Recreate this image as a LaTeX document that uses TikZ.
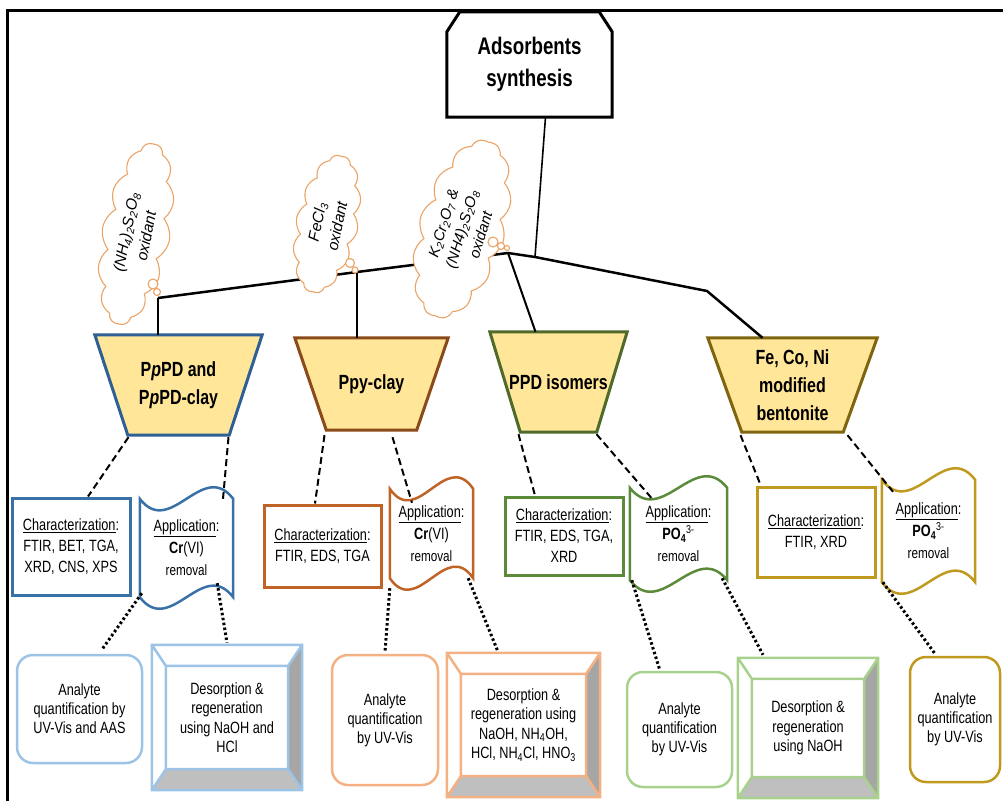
\documentclass[tikz,border=0pt]{standalone}
\usepackage{fontspec}
\setmainfont{Liberation Sans}[FakeStretch=0.78]
\newfontfamily\cloudfont{Liberation Sans}
\usetikzlibrary{shapes.symbols,calc}
\pgfdeclarelayer{background}
\pgfsetlayers{background,main}

\definecolor{trapfill}{HTML}{FFE699}
\definecolor{blueD}{HTML}{2F5F94}
\definecolor{blueM}{HTML}{3A70A8}
\definecolor{blueL}{HTML}{9DC3E6}
\definecolor{brownD}{HTML}{8B4A1A}
\definecolor{brownM}{HTML}{BF6426}
\definecolor{orangeL}{HTML}{F4B183}
\definecolor{greenD}{HTML}{4F6B2A}
\definecolor{greenM}{HTML}{5A8A3A}
\definecolor{greenL}{HTML}{A9D18E}
\definecolor{goldD}{HTML}{7F6510}
\definecolor{goldM}{HTML}{C09A1F}
\definecolor{cloudc}{HTML}{EBA468}
\definecolor{bevR}{HTML}{A6A6A6}
\definecolor{bevB}{HTML}{BFBFBF}

\tikzset{
 trap/.style={inner sep=0pt, align=center, font=\fontsize{20.5}{28}\selectfont\bfseries},
 charbox/.style={draw=#1, line width=3pt, align=center, inner sep=0pt, font=\fontsize{16.3}{21}\selectfont},
 scrollbox/.style={inner sep=0pt, align=center, font=\fontsize{16.3}{22}\selectfont},
 analyte/.style={draw=#1, rounded corners=16pt, line width=2.5pt, align=center, inner sep=0pt, font=\fontsize{16.3}{19}\selectfont},
 desorb/.style={inner sep=0pt, align=center, font=\fontsize{16.3}{19.5}\selectfont},
 thought/.style={cloud, cloud puffs=14, cloud puff arc=100, cloud ignores aspect, draw=cloudc, fill=white, line width=1.1pt, inner sep=0pt, align=center, font=\cloudfont\itshape\fontsize{15.5}{20.5}\selectfont},
 bubble/.style={circle, draw=cloudc, fill=white, line width=1.1pt, inner sep=0pt, minimum size=#1},
 mainline/.style={line width=2.5pt},
 stem/.style={line width=1.6pt},
 dashedline/.style={line width=2pt, dash pattern=on 7pt off 4pt},
 dotline/.style={line width=3pt, dash pattern=on 2.5pt off 2.5pt},
}

\newcommand\trapdraw[3]{%
 \begin{pgfonlayer}{background}
 \filldraw[draw=#2, fill=trapfill, line width=3pt, line join=miter]
   (#1.north west) -- (#1.north east) -- ($(#1.south east)+(-#3,0)$) -- ($(#1.south west)+(#3,0)$) -- cycle;
 \end{pgfonlayer}}

\newcommand\wavedraw[2]{%
 \draw[draw=#2, line width=2.5pt]
   (#1.north west) .. controls ($(#1.north west)!0.33!(#1.north east)+(0,40)$) and ($(#1.north west)!0.67!(#1.north east)+(0,-40)$) .. (#1.north east)
   -- (#1.south east) .. controls ($(#1.south west)!0.67!(#1.south east)+(0,-40)$) and ($(#1.south west)!0.33!(#1.south east)+(0,40)$) .. (#1.south west) -- cycle;}

\newcommand\beveldraw[2]{%
 \coordinate (#1a) at ($(#1.north west)+(14,21)$);
 \coordinate (#1b) at ($(#1.north east)+(-14,21)$);
 \coordinate (#1c) at ($(#1.south east)+(-14,-21)$);
 \coordinate (#1d) at ($(#1.south west)+(14,-21)$);
 \fill[bevR] (#1.north east) -- (#1.south east) -- (#1c) -- (#1b) -- cycle;
 \fill[bevB] (#1.south east) -- (#1.south west) -- (#1d) -- (#1c) -- cycle;
 \draw[draw=#2, line width=2.5pt, line join=miter]
   (#1.north west) rectangle (#1.south east) (#1a) rectangle (#1c)
   (#1.north west) -- (#1a) (#1.north east) -- (#1b) (#1.south east) -- (#1c) (#1.south west) -- (#1d);}

\begin{document}
\begin{tikzpicture}[x=1pt,y=-1pt]
\useasboundingbox (0,0) rectangle (1003,800);
% frame
\draw[line width=3pt] (7,803) -- (7,11) -- (1006,11);

% header
\node[minimum width=165pt, minimum height=105pt, inner sep=0pt, align=center,
      font=\fontsize{24}{32}\selectfont\bfseries] (H) at (529.5,64.5) {Adsorbents\\synthesis};
\draw[line width=3pt, line join=miter] (H.south west) -- ($(H.north west)+(0,20)$) -- ($(H.north west)+(13,0)$)
  -- ($(H.north east)+(-13,0)$) -- ($(H.north east)+(0,20)$) -- (H.south east) -- cycle;

% trapezoids
\node[trap, minimum width=167pt, minimum height=100pt] (T1) at (178.5,385) {P\textit{p}PD and\\P\textit{p}PD-clay};
\trapdraw{T1}{blueD}{33}
\node[trap, minimum width=153pt, minimum height=92pt] (T2) at (371.5,384) {Ppy-clay};
\trapdraw{T2}{brownD}{31.5}
\node[trap, minimum width=137pt, minimum height=100pt] (T3) at (558.5,382) {PPD isomers};
\trapdraw{T3}{greenD}{30.5}
\node[trap, minimum width=169pt, minimum height=94pt] (T4) at (792.5,385) {Fe, Co, Ni\\modified\\bentonite};
\trapdraw{T4}{goldD}{34}

% characterization boxes
\node[charbox=blueM, minimum width=118pt, minimum height=97pt] (C1) at (71,546.5)
  {\underline{Characterization}:\\FTIR, BET, TGA,\\XRD, CNS, XPS};
\node[charbox=brownM, minimum width=117pt, minimum height=82pt] (C2) at (322.5,546)
  {\underline{Characterization}:\\FTIR, EDS, TGA};
\node[charbox=greenM, minimum width=118pt, minimum height=78pt] (C3) at (564,536)
  {\underline{Characterization}:\\FTIR, EDS, TGA,\\XRD};
\node[charbox=goldM, minimum width=118pt, minimum height=90pt] (C4) at (816,532)
  {\underline{Characterization}:\\FTIR, XRD};

% application scrolls
\node[scrollbox, minimum width=93pt, minimum height=98pt] (S1) at (186.5,548)
  {\underline{Application}:\\\textbf{Cr}(VI)\\{\fontsize{15}{20}\selectfont removal}};
\wavedraw{S1}{blueM}
\node[scrollbox, minimum width=83pt, minimum height=89pt] (S2) at (431.5,533.5)
  {\underline{Application}:\\\textbf{Cr}(VI)\\{\fontsize{15}{20}\selectfont removal}};
\wavedraw{S2}{brownM}
\node[scrollbox, minimum width=97pt, minimum height=92pt] (S3) at (678.5,534)
  {\underline{Application}:\\\textbf{PO\textsubscript{4}}\textsuperscript{3-}\\{\fontsize{15}{20}\selectfont removal}};
\wavedraw{S3}{greenM}
\node[scrollbox, minimum width=93pt, minimum height=102pt] (S4) at (928.5,531)
  {\underline{Application}:\\\textbf{PO\textsubscript{4}}\textsuperscript{3-}\\{\fontsize{15}{20}\selectfont removal}};
\wavedraw{S4}{goldM}

% analyte boxes
\node[analyte=blueL, minimum width=125pt, minimum height=108pt] (A1) at (79.5,709)
  {Analyte\\quantification by\\UV-Vis and AAS};
\node[analyte=orangeL, minimum width=106pt, minimum height=130pt] (A2) at (385,720)
  {Analyte\\quantification\\by UV-Vis};
\node[analyte=greenL, minimum width=105pt, minimum height=115pt] (A3) at (679.5,729.5)
  {Analyte\\quantification\\by UV-Vis};
\node[analyte=goldM, minimum width=90pt, minimum height=125pt] (A4) at (955,719.5)
  {Analyte\\quantification\\by UV-Vis};

% desorption bevel boxes
\node[desorb, minimum width=150pt, minimum height=145pt] (D1) at (227,717.5)
  {Desorption \&\\regeneration\\using NaOH and\\HCl};
\beveldraw{D1}{blueL}
\node[desorb, minimum width=153pt, minimum height=144pt] (D2) at (523.5,725)
  {Desorption \&\\regeneration using\\NaOH, NH\textsubscript{4}OH,\\HCl, NH\textsubscript{4}Cl, HNO\textsubscript{3}};
\beveldraw{D2}{orangeL}
\node[desorb, minimum width=140pt, minimum height=140pt] (D3) at (808,728)
  {Desorption \&\\regeneration\\using NaOH};
\beveldraw{D3}{greenL}

% tree lines
\coordinate (j1) at (158,298);
\coordinate (j2) at (357,272);
\coordinate (j3) at (508,253);
\coordinate (jh) at (535,257);
\coordinate (j4) at (707,291);
\draw[stem] ($(H.south)+(16,0)$) -- (jh);
\draw[mainline, line join=round] (j1) -- (j2) -- (j3) -- (jh) -- (j4) -- ($(T4.north)+(-30,0)$);
\draw[stem] (j1) -- (j1 |- T1.north);
\draw[stem] (j2) -- (j2 |- T2.north);
\draw[line width=2pt] (j3) -- ($(T3.north)+(-23,0)$);

% thought clouds
\node[thought, rotate=79, minimum width=184pt, minimum height=68pt] (K1) at (136,234)
  {(NH\textsubscript{4})\textsubscript{2}S\textsubscript{2}O\textsubscript{8}\\oxidant};
\node[bubble=10pt] (K1a) at (153,284) {};
\node[bubble=7pt] (K1b) at (157,292) {};
\node[thought, rotate=78, minimum width=140pt, minimum height=62pt] (K2) at (327,224)
  {FeCl\textsubscript{3}\\oxidant};
\node[bubble=9pt] (K2a) at (350,263) {};
\node[bubble=6pt] (K2b) at (355,270) {};
\node[thought, rotate=73, minimum width=184pt, minimum height=86pt, font=\cloudfont\itshape\fontsize{15}{19.5}\selectfont] (K3) at (462,229)
  {K\textsubscript{2}Cr\textsubscript{2}O\textsubscript{7} \&\\(NH4)\textsubscript{2}S\textsubscript{2}O\textsubscript{8}\\oxidant};
\node[bubble=10pt] (K3a) at (493,242) {};
\node[bubble=7pt] (K3b) at (501,246) {};
\node[bubble=5pt] (K3c) at (507,248) {};

% dashed connectors
\draw[dashedline] ($(T1.south)+(-50,2)$) -- ($(C1.north)+(17,0)$);
\draw[dashedline] ($(T1.south)+(50,2)$) -- ($(S1.north)+(36.5,0)$);
\draw[dashedline] ($(T2.south)+(-47,5)$) -- ($(C2.north)+(-7.5,0)$);
\draw[dashedline] ($(T2.south)+(21,7)$) -- ($(S2.north)+(-19.5,14)$);
\draw[dashedline] ($(T3.south)+(-40,2)$) -- ($(C3.north)+(-29,0)$);
\draw[dashedline] ($(T3.south)+(38,2)$) -- ($(S3.north)+(-25.5,12)$);
\draw[dashedline] ($(T4.south)+(-52,3)$) -- ($(C4.north)+(-56,-2)$);
\draw[dashedline] ($(T4.south)+(55,3)$) -- ($(S4.north)+(-35.5,12)$);

% dotted connectors
\draw[dotline] ($(S1.south west)+(2,-4)$) -- ($(A1.north)+(23,-5)$);
\draw[dotline] ($(S1.south east)+(-16,-14)$) -- ($(D1.north)+(0,-2)$);
\draw[dotline] ($(S2.south west)+(0,10)$) -- ($(A2.north)+(0,-2)$);
\draw[dotline] ($(S2.south east)+(-5,0)$) -- ($(D2.north)+(-25.5,-1)$);
\draw[dotline] ($(S3.south west)+(2,0)$) -- ($(A3.north)+(-19.5,0)$);
\draw[dotline] ($(S3.south east)+(-5,-2)$) -- ($(D3.north)+(-45,-3)$);
\draw[dotline] ($(S4.south west)+(1,0)$) -- ($(A4.north)+(-20,-2)$);
\end{tikzpicture}
\end{document}
